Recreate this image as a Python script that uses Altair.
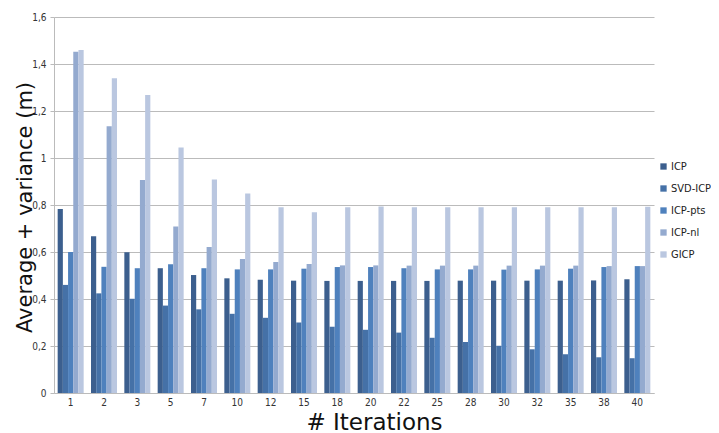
import altair as alt
import pandas as pd

iterations = ["1", "2", "3", "5", "7", "10", "12", "15", "18", "20", "22", "25", "28", "30", "32", "35", "38", "40"]
methods = ["ICP", "SVD-ICP", "ICP-pts", "ICP-nl", "GICP"]
colors = ["#3C5F8E", "#4571A7", "#4F81BD", "#94AACF", "#BAC7E0"]

icp = [0.783, 0.667, 0.599, 0.531, 0.502, 0.488, 0.482, 0.478, 0.477, 0.477, 0.477, 0.477, 0.478, 0.478, 0.478, 0.478, 0.479, 0.484]
svd_icp = [0.460, 0.424, 0.401, 0.372, 0.356, 0.337, 0.320, 0.300, 0.282, 0.269, 0.257, 0.235, 0.217, 0.201, 0.186, 0.165, 0.152, 0.148]
icp_pts = [0.600, 0.537, 0.531, 0.548, 0.531, 0.526, 0.526, 0.529, 0.536, 0.536, 0.531, 0.526, 0.526, 0.525, 0.526, 0.529, 0.536, 0.540]
icp_nl = [1.452, 1.135, 0.906, 0.709, 0.621, 0.570, 0.557, 0.549, 0.543, 0.543, 0.542, 0.542, 0.542, 0.542, 0.542, 0.542, 0.540, 0.540]
gicp = [1.460, 1.339, 1.268, 1.045, 0.909, 0.849, 0.790, 0.769, 0.790, 0.794, 0.790, 0.790, 0.790, 0.790, 0.790, 0.790, 0.790, 0.793]

y_ticks = [0, 0.2, 0.4, 0.6, 0.8, 1.0, 1.2, 1.4, 1.6]

series = {"ICP": icp, "SVD-ICP": svd_icp, "ICP-pts": icp_pts, "ICP-nl": icp_nl, "GICP": gicp}
rows = []
for m in methods:
    for it, v in zip(iterations, series[m]):
        rows.append({"Iteration": it, "Method": m, "Value": v})
df = pd.DataFrame(rows)

small_font = "Liberation Sans Narrow, DejaVu Sans Condensed, sans-serif"
big_font = "DejaVu Sans"

chart = alt.Chart(df).mark_bar().encode(
    x=alt.X(
        "Iteration:N",
        sort=iterations,
        scale=alt.Scale(paddingInner=0.22, paddingOuter=0.11),
        axis=alt.Axis(
            title="# Iterations",
            labelAngle=0,
            labelFont=small_font,
            labelFontSize=10,
            labelColor="#333333",
            labelPadding=4,
            ticks=False,
            tickSize=0,
            domainColor="#BBBBBB",
            grid=False,
            titleFont=big_font,
            titleFontSize=23,
            titleFontWeight="normal",
            titleColor="#111111",
            titleX=320,
            titleY=29,
            titleBaseline="middle",
            titleAlign="center",
        ),
    ),
    xOffset=alt.XOffset("Method:N", sort=methods, scale=alt.Scale(paddingInner=0, paddingOuter=0)),
    y=alt.Y(
        "Value:Q",
        scale=alt.Scale(domain=[0, 1.6], nice=False),
        axis=alt.Axis(
            title="Average + variance (m)",
            values=y_ticks,
            labelExpr="replace(format(datum.value, '.1~f'), '.', ',')",
            labelFont=small_font,
            labelFontSize=10,
            labelColor="#333333",
            labelPadding=4,
            tickSize=4,
            tickColor="#BBBBBB",
            domainColor="#BBBBBB",
            gridColor="#BBBBBB",
            gridWidth=1,
            titleFont=big_font,
            titleFontSize=21,
            titleFontWeight="normal",
            titleColor="#111111",
            titleX=-29,
            titleY=190,
            titleBaseline="middle",
            titleAlign="center",
            titleAngle=270,
        ),
    ),
    color=alt.Color(
        "Method:N",
        sort=methods,
        scale=alt.Scale(domain=methods, range=colors),
        legend=alt.Legend(
            title=None,
            orient="none",
            legendX=604,
            legendY=144,
            symbolType="square",
            symbolSize=40,
            symbolStrokeWidth=0,
            labelFont=small_font,
            labelFontSize=11,
            labelColor="#222222",
            labelOffset=2,
            rowPadding=10,
            padding=0,
        ),
    ),
).properties(
    width=600,
    height=376,
    autosize=alt.AutoSizeParams(type="none"),
    padding={"left": 46, "top": 9, "right": 57, "bottom": 40},
).configure_view(stroke=None)

chart.save("out.html", embed_options={"renderer": "svg", "actions": False})
